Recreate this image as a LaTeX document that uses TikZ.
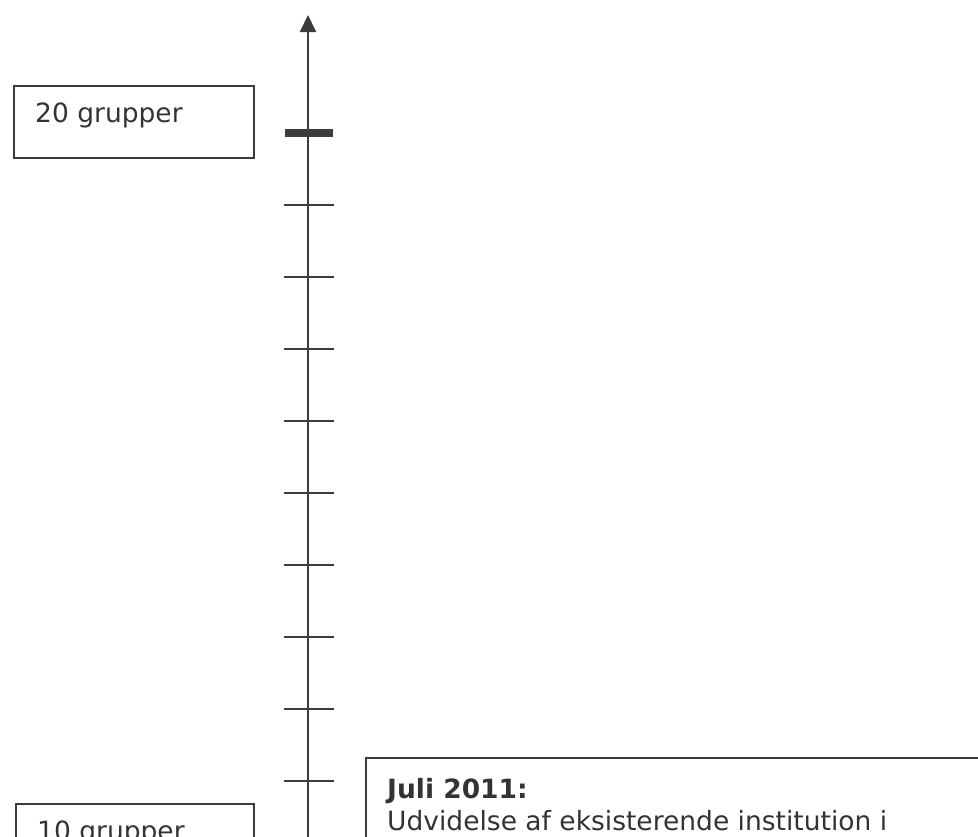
\documentclass[tikz,border=0pt]{standalone}
\usepackage{fontspec}
\setmainfont{DejaVu Sans}
\usetikzlibrary{arrows.meta}
\definecolor{linegray}{HTML}{3C3C3C}
\definecolor{textgray}{HTML}{333333}
\begin{document}
\begin{tikzpicture}[x=1pt,y=-1pt,
  ln/.style={draw=linegray,line width=2pt},
  boxframe/.style={draw=linegray,line width=2pt,rectangle,inner sep=0pt,anchor=north west},
  lbl/.style={anchor=base west,inner sep=0pt,text=textgray,font=\fontsize{26.5}{32}\selectfont},
  tickmark/.style={draw=linegray,line width=2pt},
  majortick/.style={draw=linegray,line width=8pt}]
\useasboundingbox (0,0) rectangle (978,836);
\clip (0,0) rectangle (978,836);
% axis
\coordinate (axtop) at (308,15);
\coordinate (axbot) at (308,900);
\draw[ln,-{Triangle[length=17pt,width=16pt]}] (axbot) -- (axtop);
% major tick
\coordinate (mjl) at (285,133);
\coordinate (mjr) at (333,133);
\draw[majortick] (mjl) -- (mjr);
% minor ticks
\foreach \y [count=\i] in {205,277,349,421,493,565,637,709,781} {
  \coordinate (tl\i) at (284,\y);
  \coordinate (tr\i) at (334,\y);
  \draw[tickmark] (tl\i) -- (tr\i);
}
% boxes
\node[boxframe,minimum width=240pt,minimum height=72pt] (b20) at (13,85) {};
\node[lbl] (t20) at (35,122) {20 grupper};
\node[boxframe,minimum width=238pt,minimum height=72pt] (b10) at (15,803) {};
\node[lbl] (t10) at (37,840) {10 grupper};
\node[boxframe,minimum width=700pt,minimum height=160pt] (bj) at (365,757) {};
\node[lbl,font=\fontsize{26.5}{32}\selectfont\bfseries] (tj1) at (387,798) {Juli 2011:};
\node[lbl] (tj2) at (387,830) {Udvidelse af eksisterende institution i};
\end{tikzpicture}
\end{document}
